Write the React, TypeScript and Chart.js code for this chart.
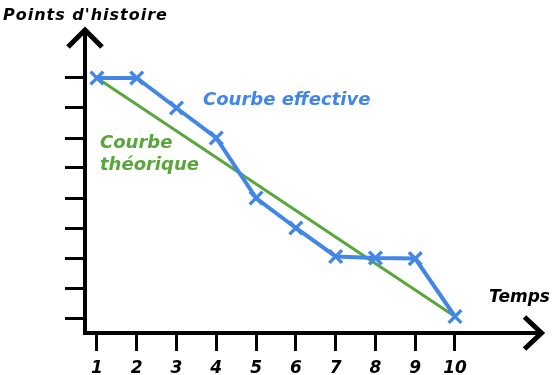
import React, { useEffect, useRef } from "react";
import { Chart, registerables } from "chart.js";

Chart.register(...registerables);

// Time (sprint days)
const xTicks = [1, 2, 3, 4, 5, 6, 7, 8, 9, 10];
// Story-point tick marks (unlabelled)
const yTicks = [1, 2, 3, 4, 5, 6, 7, 8, 9];
// Actual burndown (Courbe effective)
const effectiveValues = [9, 9, 8, 7, 5, 4, 3.05, 3, 2.98, 1.05];
// Theoretical burndown (Courbe théorique) – start and end
const theoreticalX = [1, 10];
const theoreticalValues = [9, 1.05];

const BLUE = "#4287e8";
const GREEN = "#5aa63c";
const FONT = "'DejaVu Sans', Verdana, sans-serif";

const axesPlugin = {
  id: "arrowAxes",
  afterDraw(chart: any) {
    const { ctx, chartArea } = chart;
    const { left, right, top, bottom } = chartArea;
    ctx.save();
    ctx.strokeStyle = "#000";
    ctx.lineCap = "butt";
    ctx.lineJoin = "miter";
    // y axis
    ctx.lineWidth = 4;
    ctx.beginPath();
    ctx.moveTo(left, bottom + 2);
    ctx.lineTo(left, top + 3);
    ctx.stroke();
    // x axis
    ctx.beginPath();
    ctx.moveTo(left - 2, bottom);
    ctx.lineTo(right - 4, bottom);
    ctx.stroke();
    // arrow heads
    ctx.lineWidth = 5;
    ctx.beginPath();
    ctx.moveTo(left - 17, top + 20);
    ctx.lineTo(left, top + 3);
    ctx.lineTo(left + 17, top + 20);
    ctx.stroke();
    ctx.beginPath();
    ctx.moveTo(right - 21, bottom - 16);
    ctx.lineTo(right - 4, bottom);
    ctx.lineTo(right - 21, bottom + 16);
    ctx.stroke();
    ctx.restore();
  },
};

const textPlugin = {
  id: "labels",
  afterDraw(chart: any) {
    const ctx = chart.ctx;
    ctx.save();
    ctx.textBaseline = "alphabetic";
    ctx.textAlign = "left";
    const put = (t: string, x: number, y: number, size: number, color: string, spacing = 0) => {
      ctx.font = `italic bold ${size}px ${FONT}`;
      ctx.fillStyle = color;
      (ctx as any).letterSpacing = `${spacing}px`;
      ctx.fillText(t, x, y);
    };
    put("Points d'histoire", 3, 20, 16, "#000", 1);
    put("Temps", 489, 302, 17, "#000", 0);
    put("Courbe effective", 203, 105, 18, BLUE);
    put("Courbe", 100, 148, 18, GREEN);
    put("théorique", 100, 170, 18, GREEN);
    ctx.restore();
  },
};

export default function App() {
  const ref = useRef<HTMLCanvasElement>(null);
  useEffect(() => {
    if (!ref.current) return;
    const chart = new Chart(ref.current, {
      type: "line",
      data: {
        datasets: [
          {
            label: "Courbe effective",
            data: xTicks.map((x, i) => ({ x, y: effectiveValues[i] })),
            borderColor: BLUE,
            backgroundColor: BLUE,
            borderWidth: 4,
            pointStyle: "crossRot",
            pointRadius: 9,
            pointBorderWidth: 3.5,
            pointBorderColor: BLUE,
            tension: 0,
          },
          {
            label: "Courbe théorique",
            data: theoreticalX.map((x, i) => ({ x, y: theoreticalValues[i] })),
            borderColor: GREEN,
            borderWidth: 3,
            pointRadius: 0,
            tension: 0,
          },
        ],
      },
      options: {
        responsive: false,
        animation: false,
        layout: { padding: { left: 65, top: 27, right: 10, bottom: 0 } },
        plugins: { legend: { display: false }, tooltip: { enabled: false } },
        scales: {
          x: {
            type: "linear",
            min: 0.7,
            max: 12.275,
            afterBuildTicks: (s: any) => {
              s.ticks = xTicks.map((v) => ({ value: v }));
            },
            afterFit: (s: any) => {
              s.height = 42;
            },
            grid: {
              drawOnChartArea: false,
              drawTicks: true,
              tickLength: 18,
              tickWidth: 3,
              tickColor: "#000",
            },
            border: { display: false },
            ticks: {
              autoSkip: false,
              maxRotation: 0,
              padding: 9,
              color: "#000",
              font: { family: FONT, size: 17, weight: "bold", style: "italic", lineHeight: 1 },
            },
          },
          y: {
            type: "linear",
            min: 0.5,
            max: 10.7,
            afterBuildTicks: (s: any) => {
              s.ticks = yTicks.map((v) => ({ value: v }));
            },
            grid: {
              drawOnChartArea: false,
              drawTicks: true,
              tickLength: 20,
              tickWidth: 3,
              tickColor: "#000",
            },
            border: { display: false },
            ticks: { display: false },
          },
        },
      },
      plugins: [axesPlugin, textPlugin],
    });
    return () => chart.destroy();
  }, []);
  return (
    <div style={{ position: "fixed", left: 0, top: 0, width: 558, height: 375, background: "#fff" }}>
      <canvas ref={ref} width={558} height={375} style={{ display: "block" }} />
    </div>
  );
}
